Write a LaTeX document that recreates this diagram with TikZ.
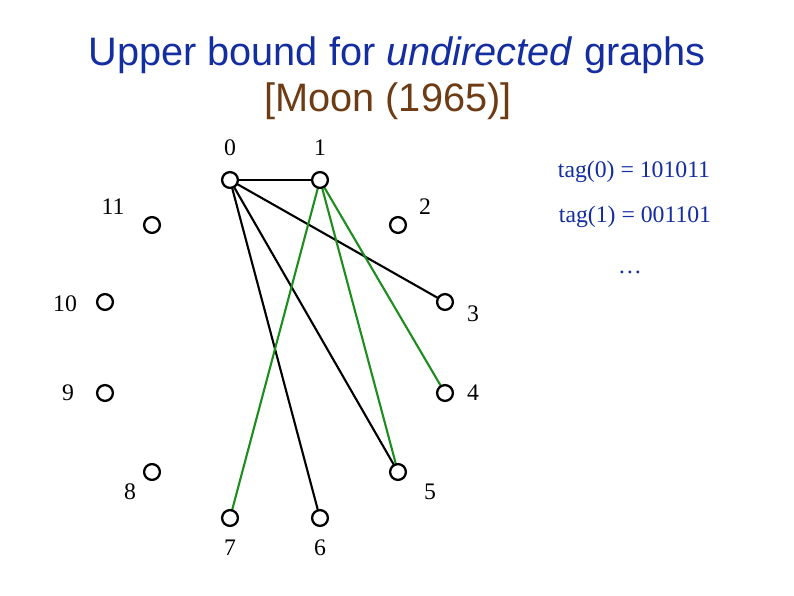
\documentclass[tikz,border=0pt]{standalone}
\usepackage{fontspec}
\setmainfont{Liberation Serif}
\newfontfamily\titlefont{Liberation Sans}
\usepackage{tikz}
\definecolor{titleblue}{RGB}{20,45,160}
\definecolor{moonbrown}{RGB}{110,60,20}
\definecolor{edgegreen}{RGB}{30,140,30}
\tikzset{
  vert/.style={circle,draw,line width=1.3pt,minimum size=9pt,inner sep=0pt,fill=white},
  lab/.style={font=\fontsize{13.5}{16}\selectfont},
  tagtext/.style={font=\fontsize{13.5}{16}\selectfont,text=titleblue},
  bl/.style={line width=1.2pt},
  gr/.style={line width=1.2pt,edgegreen}
}
\begin{document}
\begin{tikzpicture}[x=0.02cm,y=-0.02cm]
  \useasboundingbox (0,0) rectangle (794,595);
  % title
  \node[font=\titlefont\fontsize{22.6}{26}\selectfont,text=titleblue] (title) at (397,55) {Upper bound for \textit{undirected} graphs};
  \node[font=\titlefont\fontsize{22.6}{26}\selectfont,text=moonbrown] (moon) at (388,101) {[Moon (1965)]};
  % edges
  \draw[bl] (230,180) coordinate (p0) -- (320,180) coordinate (p1);
  \coordinate (p3) at (445,302);
  \coordinate (p4) at (445,393);
  \coordinate (p5) at (398,472);
  \coordinate (p6) at (320,518);
  \coordinate (p7) at (230,518);
  \draw[bl] (p0) -- (p3);
  \draw[bl] (p0) -- (p5);
  \draw[bl] (p0) -- (p6);
  \draw[gr] (p1) -- (p7);
  \draw[gr] (p1) -- (p5);
  \draw[gr] (p1) -- (p4);
  % nodes
  \node[vert] (0) at (p0) {};
  \node[vert] (1) at (p1) {};
  \node[vert] (2) at (398,225) {};
  \node[vert] (3) at (p3) {};
  \node[vert] (4) at (p4) {};
  \node[vert] (5) at (p5) {};
  \node[vert] (6) at (p6) {};
  \node[vert] (7) at (p7) {};
  \node[vert] (8) at (152,472) {};
  \node[vert] (9) at (105,393) {};
  \node[vert] (10) at (105,302) {};
  \node[vert] (11) at (152,225) {};
  % labels
  \node[lab] (l0) at (230,148) {0};
  \node[lab] (l1) at (320,148) {1};
  \node[lab] (l2) at (425,207) {2};
  \node[lab] (l3) at (473,314) {3};
  \node[lab] (l4) at (473,393) {4};
  \node[lab] (l5) at (430,492) {5};
  \node[lab] (l6) at (320,548) {6};
  \node[lab] (l7) at (230,548) {7};
  \node[lab] (l8) at (130,492) {8};
  \node[lab] (l9) at (68,393) {9};
  \node[lab] (l10) at (65,304) {10};
  \node[lab] (l11) at (113,207) {11};
  % tags
  \node[tagtext] (t0) at (634,172) {tag(0) = 101011};
  \node[tagtext] (t1) at (635,217) {tag(1) = 001101};
  \node[tagtext] (t2) at (630,272) {\dots};
\end{tikzpicture}
\end{document}
